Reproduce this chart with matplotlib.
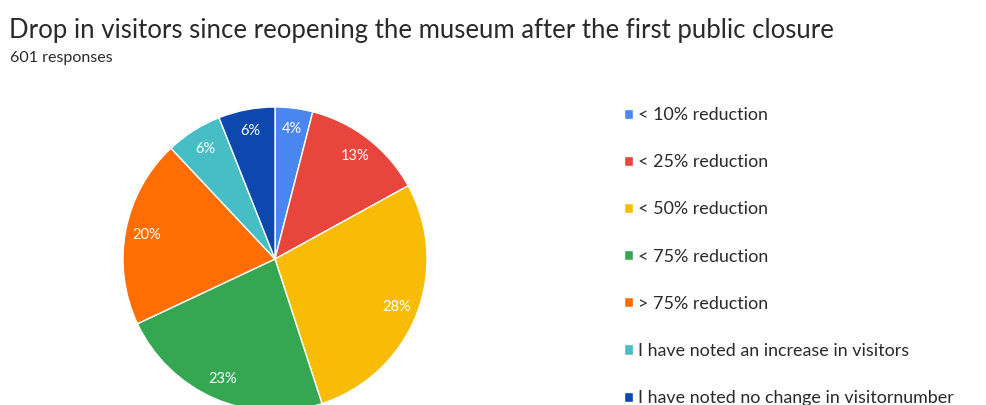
import matplotlib.pyplot as plt

plt.rcParams['font.family'] = ['Lato', 'DejaVu Sans']

categories = ['< 10% reduction', '< 25% reduction', '< 50% reduction', '< 75% reduction',
              '> 75% reduction', 'I have noted an increase in visitors',
              'I have noted no change in visitornumber']
shares = [4, 13, 28, 23, 20, 6, 6]
colors = ['#4A86F0', '#E8453C', '#F9BC06', '#35A753', '#FF6D03', '#47BDC6', '#0C48AE']

title = 'Drop in visitors since reopening the museum after the first public closure'
subtitle = '601 responses'

fig = plt.figure(figsize=(9.87, 4.05), dpi=100)
W, H = 987, 405

# pie centre and radius in pixels
cx, cy, r = 275, 259, 152
ax = fig.add_axes([(cx - r) / W, (H - cy - r) / H, 2 * r / W, 2 * r / H])
wedges, texts, autotexts = ax.pie(
    shares, colors=colors, startangle=90, counterclock=False,
    autopct='%d%%', pctdistance=0.86,
    wedgeprops=dict(edgecolor='white', linewidth=1.0),
    textprops=dict(color='white', fontsize=10.5))
ax.set_xlim(-1, 1)
ax.set_ylim(-1, 1)
ax.set_aspect('auto')
for w in wedges:
    w.set_clip_on(False)

fig.text(9 / W, 1 - 38 / H, title, fontsize=18.5, color='#2a2a2a')
fig.text(10 / W, 1 - 62 / H, subtitle, fontsize=11.5, color='#2a2a2a')

fig.legend(wedges, categories, loc='upper left', bbox_to_anchor=(624 / W, 1 - 107 / H),
           frameon=False, fontsize=12.9, labelspacing=1.74,
           handlelength=0.5, handleheight=0.5, handletextpad=0.3,
           labelcolor='#2a2a2a', borderpad=0, borderaxespad=0)

fig.savefig('out.png', dpi=100)
